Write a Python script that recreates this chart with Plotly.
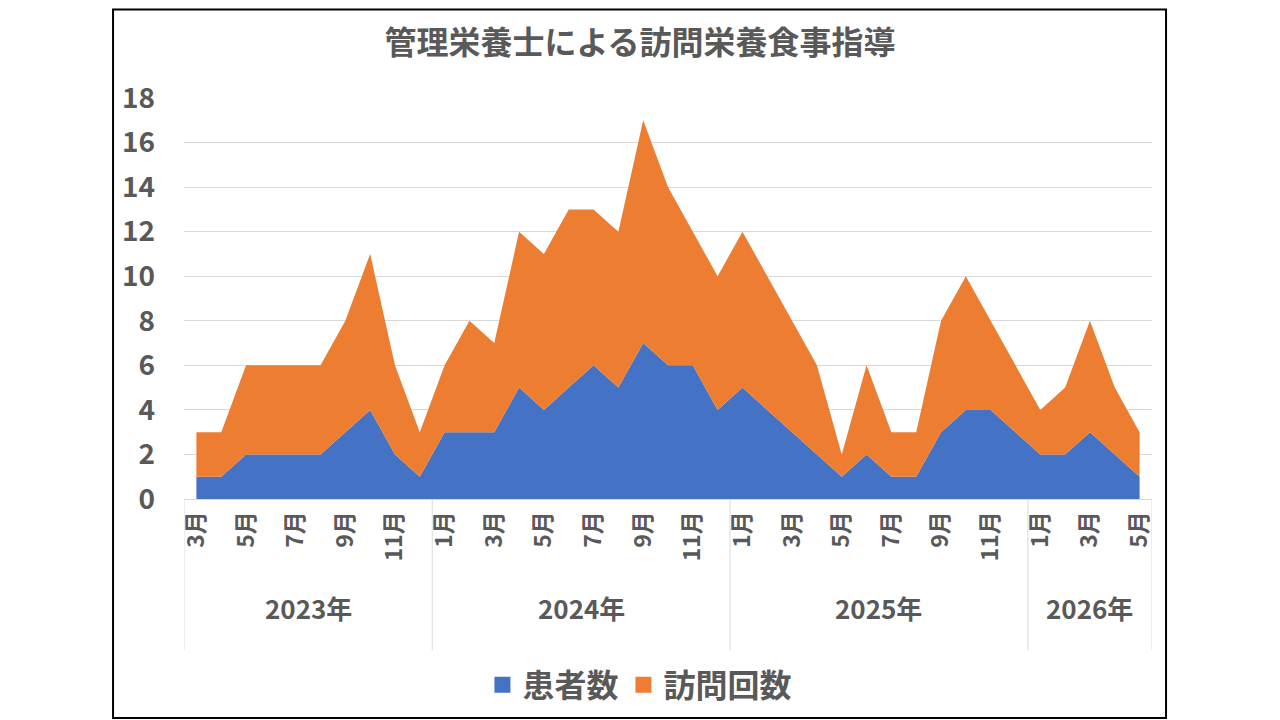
import plotly.graph_objects as go

# 2023年3月〜2026年5月 の月次データ
years = ['2023年', '2024年', '2025年', '2026年']
months = [
    [3, 4, 5, 6, 7, 8, 9, 10, 11, 12],
    [1, 2, 3, 4, 5, 6, 7, 8, 9, 10, 11, 12],
    [1, 2, 3, 4, 5, 6, 7, 8, 9, 10, 11, 12],
    [1, 2, 3, 4, 5],
]
patients = [1, 1, 2, 2, 2, 2, 3, 4, 2, 1,
            3, 3, 3, 5, 4, 5, 6, 5, 7, 6, 6, 4,
            5, 4, 3, 2, 1, 2, 1, 1, 3, 4, 4, 3,
            2, 2, 3, 2, 1]
visits = [2, 2, 4, 4, 4, 4, 5, 7, 4, 2,
          3, 5, 4, 7, 7, 8, 7, 7, 10, 8, 6, 6,
          7, 6, 5, 4, 1, 4, 2, 2, 5, 6, 4, 3,
          2, 3, 5, 3, 2]

font_family = 'Noto Sans CJK JP'
grey = '#595959'
line_grey = '#d9d9d9'
blue = '#4472C4'
orange = '#ED7D31'

month_labels = [f'{m}月' for ms in months for m in ms]
x = list(range(len(month_labels)))

fig = go.Figure()
fig.add_trace(go.Scatter(x=x, y=patients, name='患者数', stackgroup='one',
                         mode='none', fillcolor=blue, showlegend=False))
fig.add_trace(go.Scatter(x=x, y=visits, name='訪問回数', stackgroup='one',
                         mode='none', fillcolor=orange, showlegend=False))
# legend entries as square markers
for name, color in [('患者数', blue), ('訪問回数', orange)]:
    fig.add_trace(go.Scatter(x=[None], y=[None], mode='markers', name=name,
                             marker=dict(symbol='square', size=22, color=color)))

# year group labels and separators below the axis
start = 0
bounds = [-0.5]
for year, ms in zip(years, months):
    end = start + len(ms)
    fig.add_annotation(x=(start + end - 1) / 2, xref='x', y=-0.322, yref='paper',
                       text=f'<b>{year}</b>', showarrow=False,
                       font=dict(size=26, color=grey, family=font_family))
    bounds.append(end - 0.5)
    start = end
for b in bounds:
    fig.add_shape(type='line', xref='x', yref='paper', x0=b, x1=b, y0=0, y1=-0.377,
                  line=dict(color=line_grey, width=1))

# outer frame
fig.add_shape(type='rect', xref='paper', yref='paper', x0=-0.0733, x1=1.0145,
              y0=-0.546, y1=1.221, line=dict(color='black', width=2))

# page body has an 8px margin, so offsets below are shifted by 8px
fig.update_layout(
    width=1280, height=720,
    margin=dict(l=176, r=136, t=90, b=229),
    paper_bgcolor='white', plot_bgcolor='white',
    font=dict(family=font_family, color=grey),
    title=dict(text='<b>管理栄養士による訪問栄養食事指導</b>', x=0.4938, xref='container',
               y=0.951, yref='container', xanchor='center', yanchor='middle',
               font=dict(size=32, color=grey, family=font_family)),
    showlegend=True,
    legend=dict(orientation='h', x=0.471, xanchor='center', y=-0.464, yanchor='middle',
                traceorder='normal',
                font=dict(size=32, color=grey, family=font_family, weight='bold'),
                itemsizing='trace', bgcolor='rgba(0,0,0,0)'),
    xaxis=dict(range=[-0.5, len(x) - 0.5], tickvals=x[::2], ticktext=month_labels[::2],
               tickangle=-90, showgrid=False, showline=True, linecolor=line_grey,
               ticks='', ticklabelstandoff=2, zeroline=False,
               tickfont=dict(size=23, color=grey, family=font_family, weight='bold')),
    yaxis=dict(range=[0, 18], dtick=2, showgrid=True, gridcolor=line_grey,
               zeroline=False, showline=False, ticklabelstandoff=28,
               tickfont=dict(size=28, color=grey, family=font_family, weight='bold')),
)

fig.write_html('out.html')
